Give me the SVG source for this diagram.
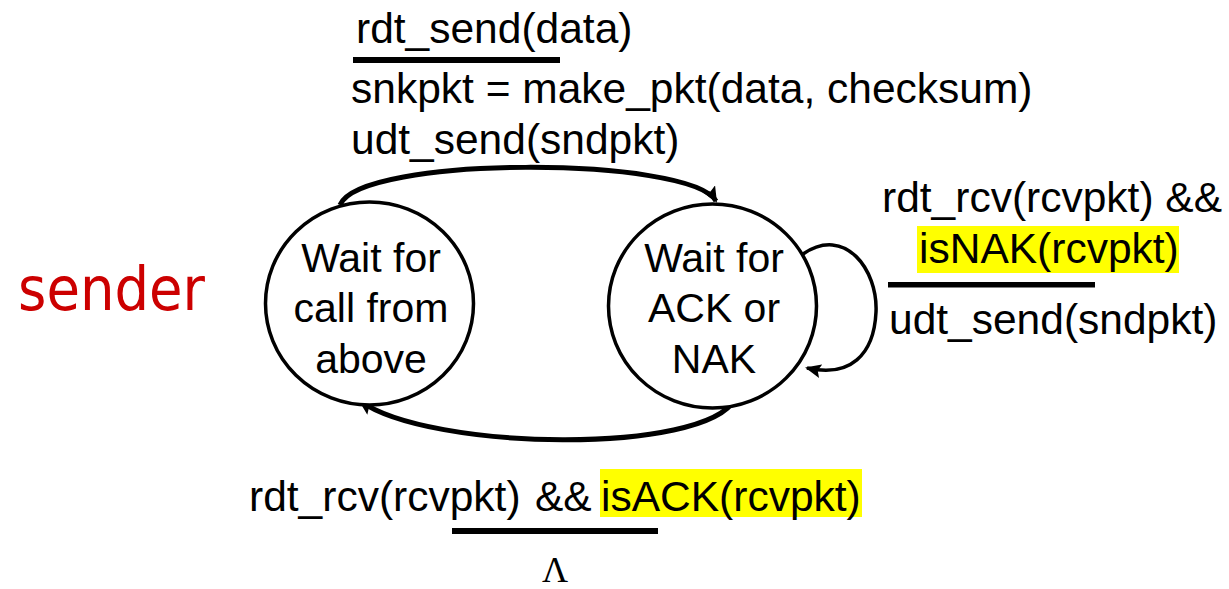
<svg xmlns="http://www.w3.org/2000/svg" width="1229" height="589" viewBox="0 0 1229 589">
  <style>
    .t { font-family: "Liberation Sans", Arial, sans-serif; font-size: 41px; fill: #000; }
    .l { font-family: "Liberation Sans", Arial, sans-serif; font-size: 42.5px; fill: #000; }
    .c { text-anchor: middle; }
    .state { fill: #fff; stroke: #000; stroke-width: 3.5; }
    .edge { fill: none; stroke: #000; stroke-width: 5; }
    .loop { fill: none; stroke: #000; stroke-width: 3.5; }
    .bar { fill: #000; }
    .hl { fill: #ffff00; }
  </style>
  <defs>
    <marker id="arrow" viewBox="0 0 16 14" markerUnits="userSpaceOnUse" markerWidth="16" markerHeight="14" refX="14" refY="7" orient="auto">
      <path d="M0,0 L16,7 L0,14 L3,7 Z" fill="#000"/>
    </marker>
  </defs>

  <text id="sender-label" x="18" y="310" font-family="'DejaVu Sans', Verdana, sans-serif" font-size="60" fill="#cc0000" textLength="187" lengthAdjust="spacingAndGlyphs">sender</text>

  <g id="connectors">
    <path id="e-send" class="edge" d="M 340 205 C 360 155, 690 156, 716 201" marker-end="url(#arrow)"/>
    <path id="e-ack" class="edge" d="M 735 399 C 705 455, 430 451, 360 401" marker-end="url(#arrow)"/>
    <path id="e-nak" class="loop" d="M 803 254 C 845 225, 878 270, 876 312 C 874 355, 850 378, 807 368" marker-end="url(#arrow)"/>
  </g>

  <g id="state-wait-call">
    <ellipse class="state" cx="369.5" cy="303.5" rx="104" ry="101.5"/>
    <text class="t c" x="371" y="272">Wait for</text>
    <text class="t c" x="371" y="322">call from</text>
    <text class="t c" x="371" y="373">above</text>
  </g>

  <g id="state-wait-ack">
    <ellipse class="state" cx="712.5" cy="306" rx="104" ry="102"/>
    <text class="t c" x="714" y="272">Wait for</text>
    <text class="t c" x="714" y="322">ACK or</text>
    <text class="t c" x="714" y="373">NAK</text>
  </g>

  <g id="label-send">
    <text class="l" x="356" y="43">rdt_send(data)</text>
    <rect class="bar" x="353" y="57" width="207" height="6"/>
    <text class="l" x="351" y="103">snkpkt = make_pkt(data, checksum)</text>
    <text class="l" x="351" y="154">udt_send(sndpkt)</text>
  </g>

  <g id="label-nak">
    <text class="l" x="882" y="212">rdt_rcv(rcvpkt) &amp;&amp;</text>
    <rect class="hl" x="917" y="226" width="262" height="47"/>
    <text class="l" x="919" y="263">isNAK(rcvpkt)</text>
    <rect class="bar" x="888" y="282" width="207" height="5.5"/>
    <text class="l" x="889" y="334">udt_send(sndpkt)</text>
  </g>

  <g id="label-ack">
    <rect class="hl" x="600" y="469" width="262" height="48"/>
    <text class="l" x="249" y="511">rdt_rcv(rcvpkt)</text>
    <text class="l" x="535" y="511">&amp;&amp;</text>
    <text class="l" x="601" y="511">isACK(rcvpkt)</text>
    <rect class="bar" x="452" y="528" width="206" height="6"/>
    <text x="555" y="582" text-anchor="middle" font-family="'Liberation Serif', 'Times New Roman', serif" font-size="36">Λ</text>
  </g>
</svg>
